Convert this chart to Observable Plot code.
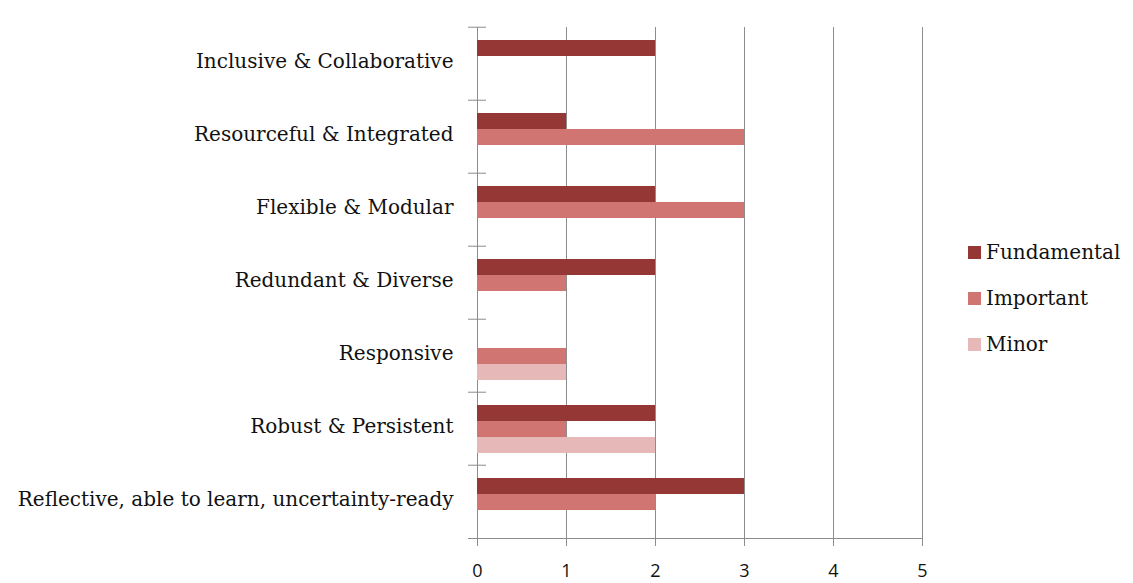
<!DOCTYPE html>
<html>
<head>
<meta charset="utf-8">
<script src="https://cdn.jsdelivr.net/npm/d3@7"></script>
<script src="https://cdn.jsdelivr.net/npm/@observablehq/plot@0.6"></script>
<style>
  html, body { margin: 0; padding: 0; background: #fff; }
  #wrap { position: relative; width: 1133px; height: 583px; }
  #legend { position: absolute; left: 968px; top: 229px; font-family: "DejaVu Serif", serif; font-size: 20px; color: #111; }
  .lg-item { display: flex; align-items: center; height: 46px; }
  .lg-sw { width: 13px; height: 13px; margin-right: 5px; }
</style>
</head>
<body>
<div id="wrap"><div id="legend"></div></div>
<script>
const categories = [
  "Inclusive & Collaborative",
  "Resourceful & Integrated",
  "Flexible & Modular",
  "Redundant & Diverse",
  "Responsive",
  "Robust & Persistent",
  "Reflective, able to learn, uncertainty-ready"
];
const series = ["Fundamental", "Important", "Minor"];
const colors = ["#953735", "#d07572", "#e6b9b8"];
const fundamental = [2, 1, 2, 2, 0, 2, 3];
const important   = [0, 3, 3, 1, 1, 1, 2];
const minor       = [0, 0, 0, 0, 1, 2, 0];
const xTicks = [0, 1, 2, 3, 4, 5];

const values = [fundamental, important, minor];
const data = [];
categories.forEach((c, i) => series.forEach((s, j) => data.push({category: c, series: s, value: values[j][i]})));

const width = 1133, height = 583, marginTop = 25, marginBottom = 43, marginLeft = 477, marginRight = 211;
const halfBand = (height - marginTop - marginBottom) / categories.length / 2;

const chart = Plot.plot({
  width, height, marginTop, marginBottom, marginLeft, marginRight,
  style: {fontFamily: "DejaVu Serif, serif", background: "#fff"},
  x: {domain: [0, 5]},
  fy: {domain: categories, paddingInner: 0, paddingOuter: 0},
  y: {domain: series, paddingInner: 0, paddingOuter: 0.73},
  color: {domain: series, range: colors},
  marks: [
    Plot.ruleX(xTicks, {stroke: "#8c8c8c", strokeWidth: 1}),
    Plot.barX(data, {x: "value", y: "series", fy: "category", fill: "series", inset: 0}),
    Plot.frame({anchor: "bottom", facetAnchor: "bottom", stroke: "#8c8c8c", insetLeft: -9}),
    Plot.axisFy({anchor: "left", tickSize: 0, tickPadding: 24, fontSize: 20, fill: "#111", label: null, dy: -2}),
    Plot.axisFy({anchor: "left", tickSize: 18, tickFormat: () => "", dy: -halfBand, dx: 9, stroke: "#8c8c8c", label: null}),
    Plot.axisY({ticks: [], tickFormat: null, label: null}),
    Plot.axisX({ticks: xTicks, tickFormat: d => String(d), tickSize: 8, tickPadding: 18, stroke: "#8c8c8c", fontSize: 18, fill: "#111", fontFamily: "Open Sans, sans-serif", label: null})
  ]
});
document.getElementById("wrap").prepend(chart);

const lg = d3.select("#legend");
series.forEach((s, i) => {
  const item = lg.append("div").attr("class", "lg-item");
  item.append("div").attr("class", "lg-sw").style("background", colors[i]);
  item.append("span").text(s);
});
</script>
</body>
</html>
